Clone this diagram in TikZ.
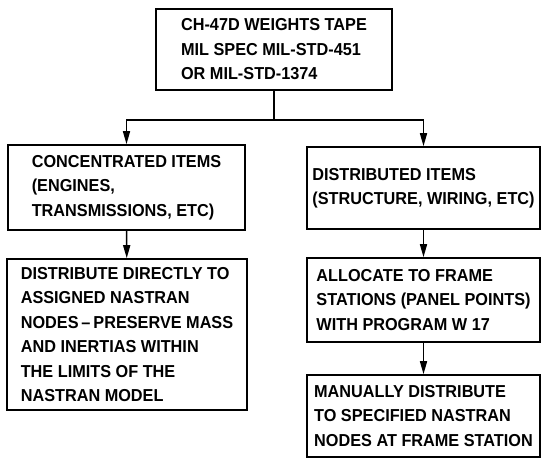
\documentclass[tikz,border=0pt]{standalone}
\usepackage{fontspec}
\setmainfont{Liberation Sans}[FakeStretch=0.94]
\usepackage{tikz}
\usetikzlibrary{arrows.meta,positioning,calc}

\begin{document}
\begin{tikzpicture}[
  x=1pt, y=-1pt,
  every node/.style={font=\bfseries\fontsize{17.3}{24.5}\selectfont},
  box/.style={draw, line width=1.6pt, align=left, inner sep=0pt},
  arr/.style={-{Triangle[length=13pt, width=7pt]}, line width=1.6pt}
]
  \useasboundingbox (0,0) rectangle (543,459);

  % Source box at the top
  \node[box, minimum width=236pt, minimum height=81pt] (tape) at (274, 49.5) {CH-47D WEIGHTS TAPE\\MIL SPEC MIL-STD-451\\OR MIL-STD-1374};

  % Left column (concentrated items)
  \node[box, minimum width=237pt, minimum height=85pt] (conc) at (126.5, 187.5) {CONCENTRATED ITEMS\\(ENGINES,\\TRANSMISSIONS, ETC)};
  \node[box, minimum width=240pt, minimum height=151pt] (direct) at (127, 334.5) {DISTRIBUTE DIRECTLY TO\\ASSIGNED NASTRAN\\NODES\,--\,PRESERVE MASS\\AND INERTIAS WITHIN\\THE LIMITS OF THE\\NASTRAN MODEL};

  % Right column (distributed items)
  \node[box, minimum width=233pt, minimum height=82pt] (dist) at (423.5, 188) {DISTRIBUTED ITEMS\\(STRUCTURE, WIRING, ETC)};
  \node[box, minimum width=233pt, minimum height=84pt] (alloc) at (423.5, 300) {ALLOCATE TO FRAME\\STATIONS (PANEL POINTS)\\WITH PROGRAM W 17};
  \node[box, minimum width=233pt, minimum height=82pt] (manual) at (423.5, 416) {MANUALLY DISTRIBUTE\\TO SPECIFIED NASTRAN\\NODES AT FRAME STATION};

  % Split below the tape box
  \coordinate (split) at (274, 120);
  \draw[line width=1.6pt] (tape.south) -- (split);
  \draw[arr] (split) -| (conc.north);
  \draw[arr] (split) -| (dist.north);

  % Down each column
  \draw[arr] (conc) -- (direct);
  \draw[arr] (dist) -- (alloc);
  \draw[arr] (alloc) -- (manual);

\end{tikzpicture}
\end{document}
